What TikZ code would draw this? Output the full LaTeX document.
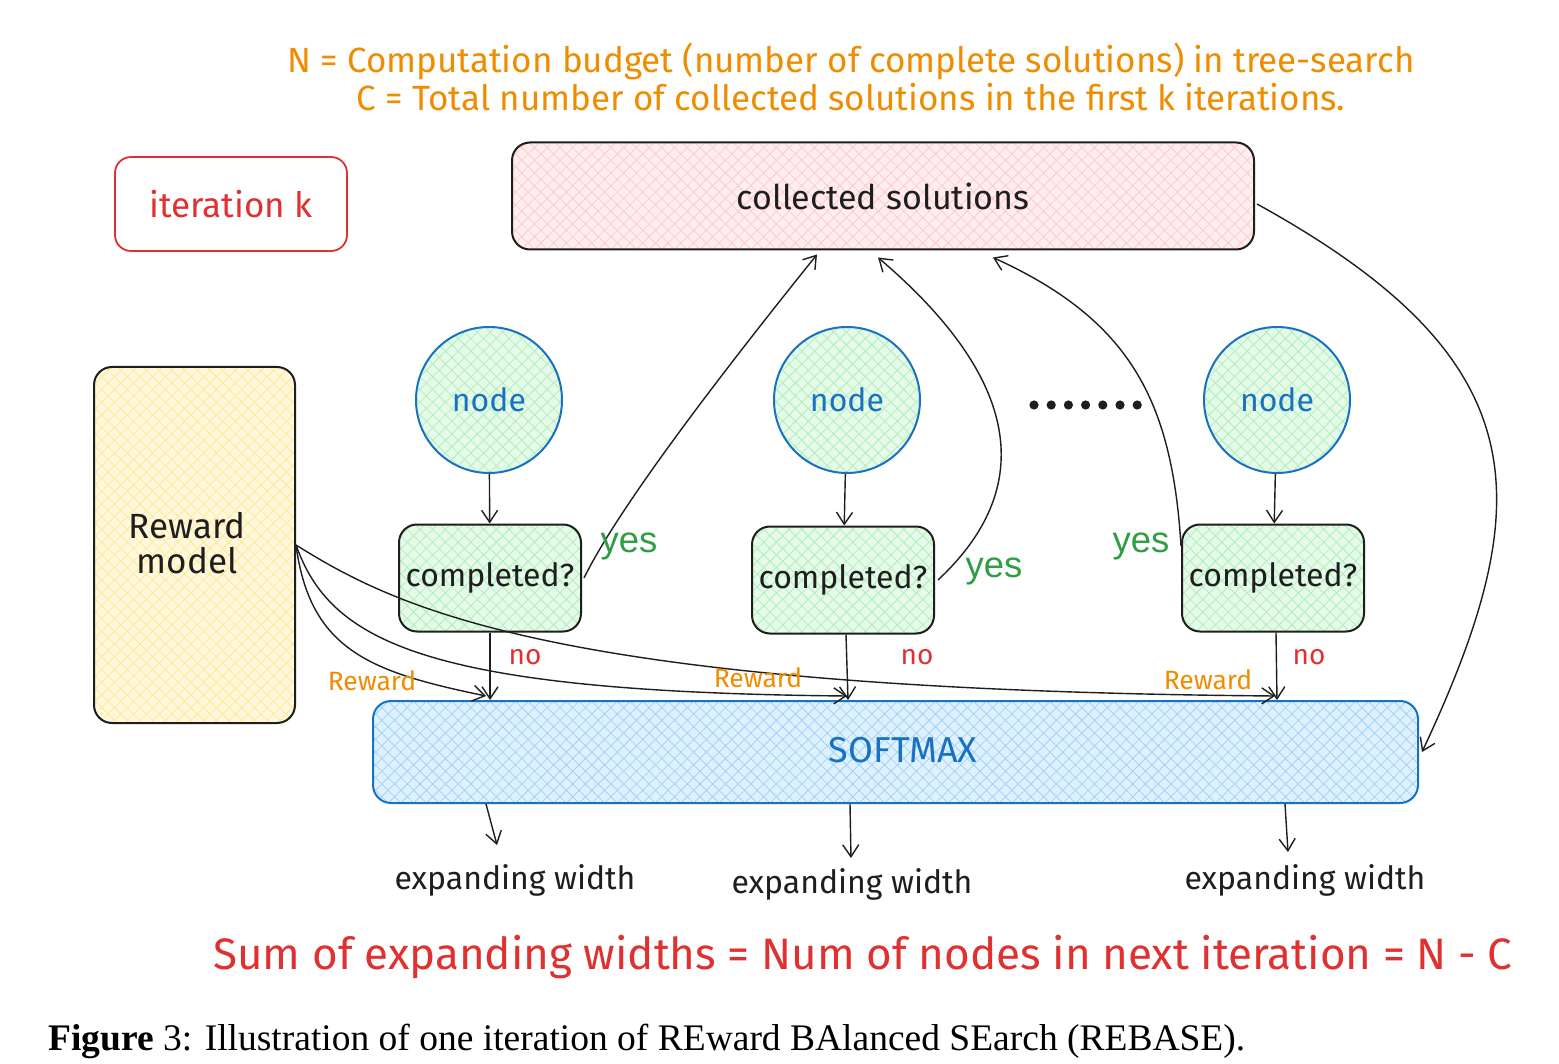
\documentclass[tikz,border=0pt]{standalone}
\usepackage{fontspec}
\setmainfont{Fira Sans}
\newfontfamily\yesfont{Liberation Sans}
\newfontfamily\capfont{Liberation Serif}
\usetikzlibrary{arrows.meta,patterns.meta,calc}
\definecolor{inkC}{HTML}{1E1E1E}
\definecolor{pinkH}{HTML}{FFB3B3}
\definecolor{yelH}{HTML}{FFE066}
\definecolor{grnH}{HTML}{8CE99A}
\definecolor{bluH}{HTML}{74C0FC}
\definecolor{bluS}{HTML}{1971C2}
\definecolor{redS}{HTML}{E03131}
\definecolor{orgS}{HTML}{F08C00}
\definecolor{grnT}{HTML}{2F9E44}
\tikzset{
  hatchfill/.style={preaction={fill=#1!22!white},
    preaction={pattern={Hatch[angle=45,distance=9pt,line width=0.8pt]},pattern color=#1!70!white}},
  hand/.style={font=\fontsize{#1}{#1}\selectfont},
  sbox/.style={draw=inkC, line width=2pt, rounded corners=18pt, align=center, text=inkC},
  circnode/.style={circle, draw=bluS, line width=2pt, minimum size=146pt, hatchfill=grnH,
    text=bluS, hand=32},
  compbox/.style={sbox, hatchfill=grnH, minimum width=182pt, minimum height=107pt, hand=32},
  arr/.style={draw=inkC, line width=1.4pt,
    -{Straight Barb[length=12pt,width=16pt,line width=1.4pt]}},
  yeslab/.style={text=grnT, font=\yesfont\fontsize{36.5}{36.5}\selectfont},
  nolab/.style={text=redS, hand=28},
  rewlab/.style={text=orgS, hand=26.5},
  expl/.style={text=inkC, hand=32},
}
\begin{document}
\begin{tikzpicture}[x=1pt,y=-1pt]
\useasboundingbox (0,0) rectangle (1559,1064);
\fill[white] (0,0) rectangle (1559,1064);

% header text
\node[text=orgS, hand=35, align=center] (hdr) at (851,77)
  {N = Computation budget (number of complete solutions) in tree-search\\[3pt]
   C = Total number of collected solutions in the first k iterations.};

% iteration k box
\node[draw=redS, line width=1.8pt, rounded corners=16pt, minimum width=232pt,
  minimum height=94pt, text=redS, hand=35] (iter) at (231,204) {iteration k};

% collected solutions
\node[sbox, hatchfill=pinkH, minimum width=742pt, minimum height=107pt, hand=34]
  (coll) at (883,196) {collected solutions};

% reward model
\node[sbox, hatchfill=yelH, minimum width=201pt, minimum height=356pt]
  (rm) at (194.5,545) {};
\node[hand=35, align=center, text=inkC] (rmt) at (187,543) {Reward\\model};

% nodes
\node[circnode] (n1) at (489,400) {node};
\node[circnode] (n2) at (847,400) {node};
\node[circnode] (n3) at (1277,400) {node};

% dots
\foreach \i in {0,...,6} \fill[inkC] (1034+\i*17.2,405) circle (4.6pt);

% completed boxes
\node[compbox] (c1) at (490,578) {completed?};
\node[compbox] (c2) at (843,580) {completed?};
\node[compbox] (c3) at (1273,578) {completed?};

% softmax
\node[draw=bluS, line width=2pt, rounded corners=18pt, hatchfill=bluH,
  minimum width=1045pt, minimum height=102pt]
  (soft) at (895.5,752) {};
\node[text=bluS, hand=36] (smt) at (903,750) {SOFTMAX};

% node -> completed
\draw[arr] (n1) -- (c1);
\draw[arr] (n2) -- (c2);
\draw[arr] (n3) -- (c3);

% completed -> softmax (no)
\draw[arr] (c1.south) -- (c1.south |- soft.north);
\draw[arr] ($(c2.south)+(3,0)$) -- ($(c2.south |- soft.north)+(5,0)$);
\draw[arr] ($(c3.south)+(3,0)$) -- ($(c3.south |- soft.north)+(4,0)$);
\node[nolab] (no1) at (525,657) {no};
\node[nolab] (no2) at (917,657) {no};
\node[nolab] (no3) at (1309,657) {no};

% yes arrows
\draw[arr] ($(c1.east)+(2,0)$) .. controls (615,515) and (700,400) .. ($(coll.south)+(-66,4)$);
\draw[arr] ($(c2.east)+(3,0)$) .. controls (1045,480) and (1010,370) .. ($(coll.south)+(-5,7)$);
\draw[arr] ($(c3.west)+(0,-32)$) .. controls (1172,400) and (1130,320) .. ($(coll.south)+(110,7)$);
\node[yeslab] (y1) at (629,546) {yes};
\node[yeslab] (y2) at (994,571) {yes};
\node[yeslab] (y3) at (1141,546) {yes};

% collected -> softmax
\draw[arr] ($(coll.east)+(2,8)$) .. controls (1540,360) and (1540,500) .. ($(soft.east)+(3,0)$);

% reward arrows
\draw[arr] (rm.east) .. controls (310,650) and (370,672) .. ($(c1.south |- soft.north)+(-4,-4)$);
\draw[arr] (rm.east) .. controls (330,640) and (420,692) .. ($(c2.south |- soft.north)+(4,-4)$);
\draw[arr] (rm.east) .. controls (400,610) and (560,690) .. ($(c3.south |- soft.north)+(2,-4)$);
\node[rewlab] (r1) at (372,681) {Reward};
\node[rewlab] (r2) at (758,678) {Reward};
\node[rewlab] (r3) at (1208,680) {Reward};

% softmax -> expanding width
\coordinate (t1) at (497,845);
\coordinate (t2) at (851,858);
\coordinate (t3) at (1288,852);
\draw[arr] ([xshift=114pt]soft.south west) -- (t1);
\draw[arr] ([xshift=478pt]soft.south west) -- (t2);
\draw[arr] ([xshift=913pt]soft.south west) -- (t3);
\node[expl] (w1) at (515,880) {expanding width};
\node[expl] (w2) at (852,884) {expanding width};
\node[expl] (w3) at (1305,880) {expanding width};

% sum line
\node[text=redS, hand=44] (sum) at (863,957)
  {Sum of expanding widths = Num of nodes in next iteration = N - C};

% caption
\node[anchor=west, inner sep=0pt] (cap) at (48,1041)
  {\capfont\fontsize{37.5}{37.5}\selectfont\textbf{Figure} 3: Illustration of one iteration of REward BAlanced SEarch (REBASE).};
\end{tikzpicture}
\end{document}
